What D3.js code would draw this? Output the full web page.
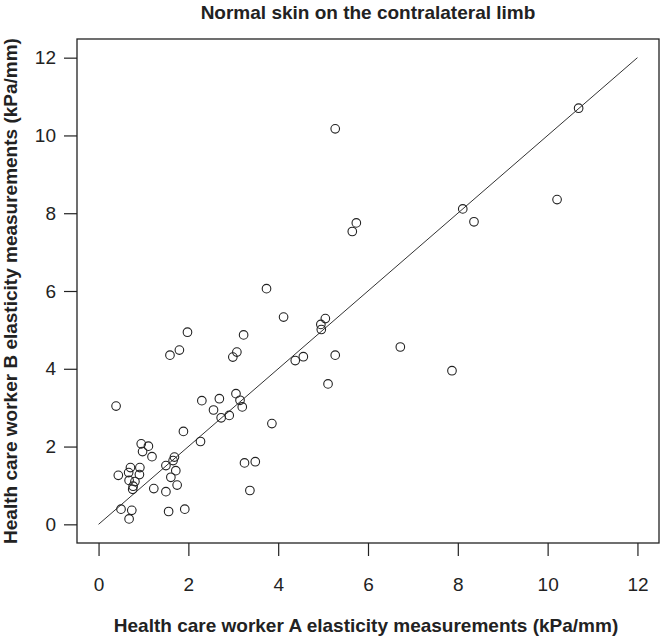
<!DOCTYPE html>
<html>
<head>
<meta charset="utf-8">
<script src="https://cdn.jsdelivr.net/npm/d3@7"></script>
<style>
  html, body { margin: 0; padding: 0; background: #fff; }
  svg { display: block; }
  text { font-family: "Liberation Sans", Arial, sans-serif; fill: #222; }
</style>
</head>
<body>
<svg id="chart" width="661" height="640"></svg>
<script>
// Health care worker A measurements (kPa/mm)
const workerA = [0.39, 0.44, 0.50, 0.74, 0.68, 0.71, 0.92, 0.67, 0.91, 0.68, 0.81, 0.77, 0.76,
  0.95, 1.11, 0.98, 1.19, 1.23, 1.50, 1.50, 1.69, 1.66, 1.72, 1.61, 1.75, 1.56, 1.92, 1.89,
  2.27, 2.30, 2.69, 3.06, 3.15, 3.20, 2.56, 2.73, 2.91, 3.86, 3.25, 3.49, 3.37, 1.59, 1.80,
  1.98, 2.99, 3.08, 3.23, 3.74, 4.12, 4.38, 4.56, 5.27, 5.11, 4.95, 4.96, 5.05, 5.27, 5.65,
  5.74, 6.72, 7.87, 8.11, 8.36, 10.21, 10.69];
// Health care worker B measurements (kPa/mm)
const workerB = [3.04, 1.26, 0.39, 0.36, 0.14, 1.46, 1.46, 1.33, 1.28, 1.13, 1.10, 0.98, 0.90,
  2.07, 2.01, 1.87, 1.74, 0.92, 0.84, 1.51, 1.73, 1.64, 1.38, 1.21, 1.01, 0.33, 0.39, 2.39,
  2.13, 3.18, 3.23, 3.36, 3.19, 3.02, 2.94, 2.74, 2.80, 2.59, 1.58, 1.61, 0.87, 4.35, 4.48,
  4.94, 4.30, 4.43, 4.87, 6.06, 5.33, 4.21, 4.31, 4.35, 3.61, 5.14, 5.01, 5.29, 10.17, 7.53,
  7.75, 4.56, 3.95, 8.11, 7.78, 8.35, 10.70];
// Line of identity
const identityLine = [0, 12];
const xTicks = [0, 2, 4, 6, 8, 10, 12];
const yTicks = [0, 2, 4, 6, 8, 10, 12];

const titleText = "Normal skin on the contralateral limb";
const xTitle = "Health care worker A elasticity measurements (kPa/mm)";
const yTitle = "Health care worker B elasticity measurements (kPa/mm)";

const svg = d3.select("#chart");
const box = { left: 77, right: 659, top: 39, bottom: 543 };

const x = d3.scaleLinear().domain([-0.48, 12.48]).range([box.left, box.right]);
const y = d3.scaleLinear().domain([-0.48, 12.48]).range([box.bottom, box.top]);

const ink = "#222";

// Axes
const xAxis = d3.axisBottom(x).tickValues(xTicks).tickSize(13).tickPadding(22).tickFormat(d3.format("d"));
const yAxis = d3.axisLeft(y).tickValues(yTicks).tickSize(13).tickPadding(8).tickFormat(d3.format("d"));

const gx = svg.append("g").attr("transform", `translate(0,${box.bottom})`).call(xAxis);
const gy = svg.append("g").attr("transform", `translate(${box.left},0)`).call(yAxis);
[gx, gy].forEach(g => {
  g.select(".domain").remove();
  g.selectAll(".tick line").attr("stroke", ink).attr("stroke-width", 1.2);
  g.selectAll(".tick text").attr("fill", "#222").style("font-size", "19px")
    .style("font-family", "'Liberation Sans', Arial, sans-serif");
});

// Plot box
svg.append("rect")
  .attr("x", box.left).attr("y", box.top)
  .attr("width", box.right - box.left).attr("height", box.bottom - box.top)
  .attr("fill", "none").attr("stroke", ink).attr("stroke-width", 1.3);

// Identity line
svg.append("line")
  .attr("x1", x(identityLine[0])).attr("y1", y(identityLine[0]))
  .attr("x2", x(identityLine[1])).attr("y2", y(identityLine[1]))
  .attr("stroke", "#333").attr("stroke-width", 1);

// Points
svg.append("g").selectAll("circle")
  .data(workerA.map((a, i) => [a, workerB[i]]))
  .join("circle")
  .attr("cx", d => x(d[0])).attr("cy", d => y(d[1]))
  .attr("r", 4.3)
  .attr("fill", "none").attr("stroke", ink).attr("stroke-width", 1.1);

// Titles
svg.append("text").attr("x", 368).attr("y", 12)
  .attr("text-anchor", "middle").attr("dominant-baseline", "central")
  .style("font-size", "19px").style("font-weight", "bold").text(titleText);

svg.append("text").attr("x", 366).attr("y", 625)
  .attr("text-anchor", "middle").attr("dominant-baseline", "central")
  .style("font-size", "19px").style("font-weight", "bold").text(xTitle);

svg.append("text")
  .attr("transform", `translate(10,${(box.top + box.bottom) / 2}) rotate(-90)`)
  .attr("text-anchor", "middle").attr("dominant-baseline", "central")
  .style("font-size", "19px").style("font-weight", "bold").text(yTitle);
</script>
</body>
</html>
